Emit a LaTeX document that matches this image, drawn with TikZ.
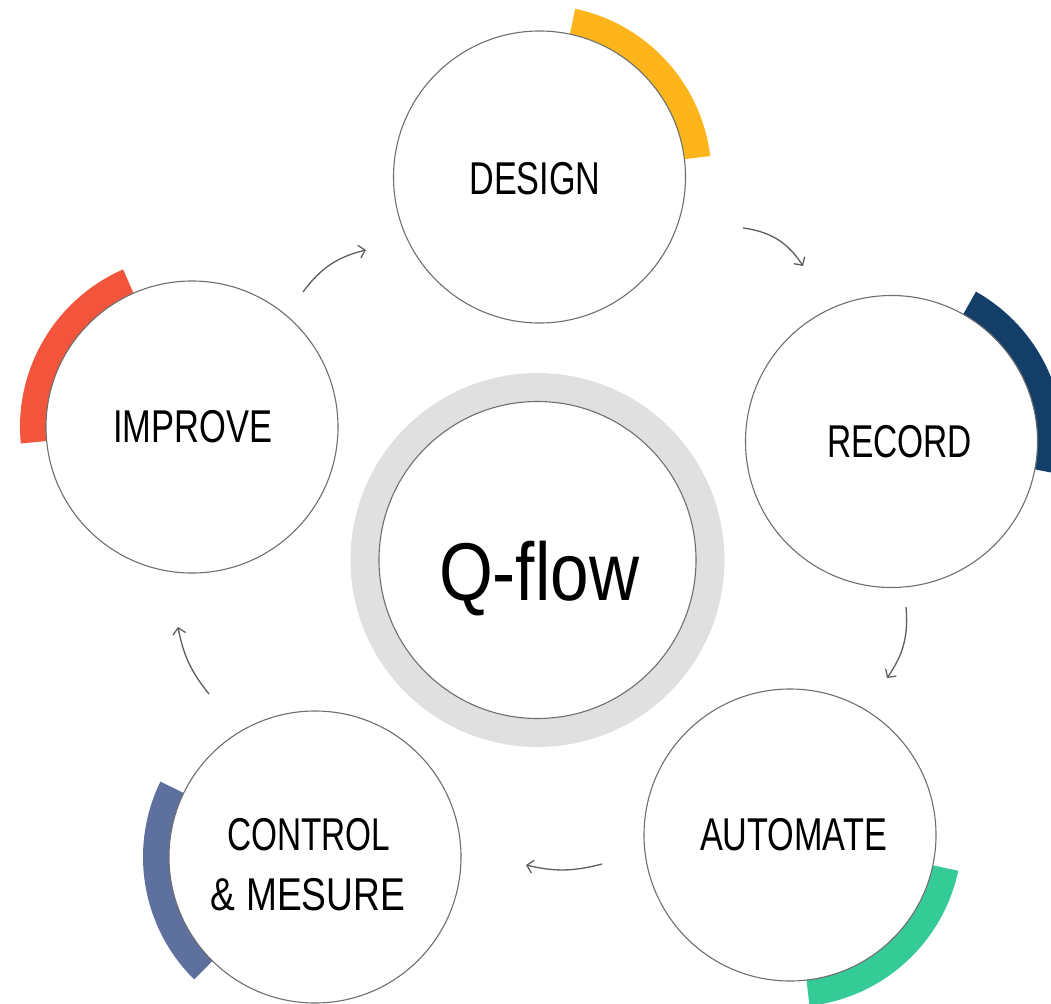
\documentclass[tikz,border=0pt]{standalone}
\usepackage{fontspec}
\setmainfont{Liberation Sans}
\usetikzlibrary{arrows.meta,calc}
\definecolor{cyel}{HTML}{FDB51B}
\definecolor{cnavy}{HTML}{133E67}
\definecolor{cred}{HTML}{F2553B}
\definecolor{cgreen}{HTML}{35CB97}
\definecolor{cslate}{HTML}{5E709E}
\definecolor{cring}{HTML}{E0E0E0}
\definecolor{cline}{HTML}{6E6E6E}
\definecolor{carrow}{HTML}{5E5E5E}
\newcommand\stagearc[4]{%
  \fill[#1] ($(#2)+(#3:143)$) arc[start angle=#3, end angle=#4, radius=143]
    -- ($(#2)+(#4:172)$) arc[start angle=#4, end angle=#3, radius=172] -- cycle;}
\newcommand\lbltext[2]{\resizebox{#1pt}{\height}{#2}}
\begin{document}
\begin{tikzpicture}[x=1pt,y=1pt,
  stage/.style={circle, draw=cline, line width=1.1pt, fill=white, minimum size=292pt, inner sep=0pt},
  lbl/.style={anchor=base, inner sep=0pt, font=\fontsize{46}{46}\selectfont},
  flow/.style={carrow, line width=1.3pt, -{Straight Barb[length=6pt,width=13pt]}}]
\useasboundingbox (0,0) rectangle (1051,-1003);
% centres
\coordinate (cD) at (539.5,-177);
\coordinate (cR) at (891.5,-441.5);
\coordinate (cA) at (790,-835);
\coordinate (cC) at (315,-857);
\coordinate (cI) at (192,-427);
\coordinate (cQ) at (537.5,-560);
% coloured bands
\stagearc{cyel}{cD}{78}{7}
\stagearc{cnavy}{cR}{60.6}{-11}
\stagearc{cgreen}{cA}{-12}{-83.5}
\stagearc{cslate}{cC}{154}{225.4}
\stagearc{cred}{cI}{113.6}{185.5}
% centre ring
\fill[cring] (cQ) circle (187);
\node[stage, minimum size=317pt] (Q) at (cQ) {};
% stage circles
\node[stage] (D) at (cD) {};
\node[stage] (R) at (cR) {};
\node[stage] (A) at (cA) {};
\node[stage] (C) at (cC) {};
\node[stage] (I) at (cI) {};
% labels
\node[lbl] (tD) at (535,-194) {\lbltext{131}{DESIGN}};
\node[lbl] (tR) at (899.5,-457) {\lbltext{145}{RECORD}};
\node[lbl] (tA) at (793.5,-850) {\lbltext{187}{AUTOMATE}};
\node[lbl] (tC1) at (308.5,-850) {\lbltext{163}{CONTROL}};
\node[lbl] (tC2) at (308,-910) {\lbltext{194}{\& MESURE}};
\node[lbl] (tI) at (192.5,-442) {\lbltext{159}{IMPROVE}};
\node[lbl, font=\fontsize{82}{82}\selectfont] (tQ) at (539,-600) {\lbltext{200}{Q-flow}};
% arrows
\coordinate (a1s) at (743,-228);  \coordinate (a1e) at (803,-266);
\coordinate (a2s) at (906,-607);  \coordinate (a2e) at (887,-678);
\coordinate (a3s) at (602,-864);  \coordinate (a3e) at (526,-865);
\coordinate (a4s) at (209,-694);  \coordinate (a4e) at (178,-627);
\coordinate (a5s) at (303,-292);  \coordinate (a5e) at (366,-250);
\draw[flow] (a1s) to[bend left=25] (a1e);
\draw[flow] (a2s) to[bend left=20] (a2e);
\draw[flow] (a3s) to[bend left=14] (a3e);
\draw[flow] (a4s) to[bend left=14] (a4e);
\draw[flow] (a5s) to[bend left=20] (a5e);
\end{tikzpicture}
\end{document}
